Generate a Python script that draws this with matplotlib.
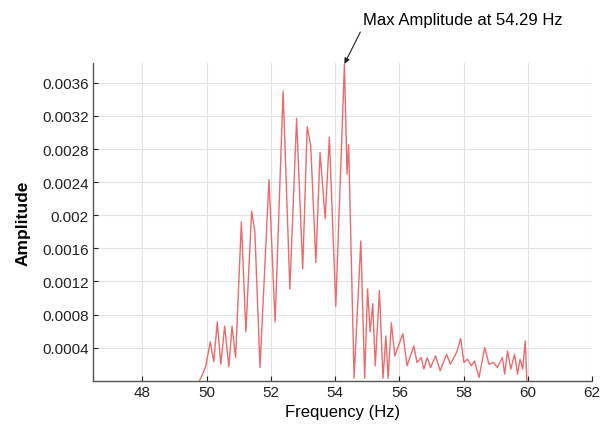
import matplotlib
matplotlib.use("Agg")
import matplotlib.pyplot as plt

plt.rcParams['font.family'] = ['Liberation Sans', 'DejaVu Sans']

# spectrum: frequency (Hz) and amplitude at peaks / troughs
freq = [49.78, 49.97, 50.11, 50.22, 50.33, 50.44, 50.56, 50.69, 50.79, 50.90,
        51.08, 51.22, 51.40, 51.50, 51.66, 51.94, 52.13, 52.38, 52.59, 52.80,
        52.99, 53.13, 53.24, 53.40, 53.53, 53.69, 53.82, 54.02, 54.29, 54.37,
        54.42, 54.59, 54.80, 54.92, 55.01, 55.09, 55.17, 55.25, 55.38, 55.49,
        55.58, 55.65, 55.75, 55.86, 56.11, 56.24, 56.45, 56.55, 56.68, 56.76,
        56.87, 56.97, 57.13, 57.27, 57.47, 57.59, 57.78, 57.91, 58.01, 58.12,
        58.24, 58.34, 58.48, 58.66, 58.79, 58.93, 59.05, 59.21, 59.28, 59.37,
        59.47, 59.59, 59.68, 59.76, 59.84, 59.92, 59.97]
amp = [0.0, 0.00017, 0.00047, 0.00023, 0.00071, 0.00020, 0.00066, 0.00017, 0.00066, 0.00028,
       0.00192, 0.00059, 0.00205, 0.00180, 0.00016, 0.00243, 0.00071, 0.00350, 0.00111, 0.00317,
       0.00135, 0.00307, 0.00284, 0.00143, 0.00276, 0.00196, 0.00294, 0.00090, 0.00383, 0.00250,
       0.00285, 0.00003, 0.00169, 0.00003, 0.00111, 0.00059, 0.00093, 0.00018, 0.00109, 0.00003,
       0.00054, 0.00003, 0.00070, 0.00030, 0.00057, 0.00018, 0.00042, 0.00022, 0.00028, 0.00014,
       0.00028, 0.00016, 0.00030, 0.00012, 0.00032, 0.00020, 0.00034, 0.00051, 0.00022, 0.00026,
       0.00018, 0.00024, 0.00004, 0.00040, 0.00020, 0.00022, 0.00016, 0.00028, 0.00008, 0.00036,
       0.00014, 0.00032, 0.00008, 0.00026, 0.00014, 0.00048, 0.0]

xticks = [48, 50, 52, 54, 56, 58, 60, 62]
yticks = [0.0004, 0.0008, 0.0012, 0.0016, 0.002, 0.0024, 0.0028, 0.0032, 0.0036]
ytick_labels = ['0.0004', '0.0008', '0.0012', '0.0016', '0.002', '0.0024', '0.0028', '0.0032', '0.0036']
peak_f, peak_a = 54.29, 0.00383

fig = plt.figure(figsize=(6, 4.39), dpi=100)
ax = fig.add_axes([0.1545, 0.1305, 0.8322, 0.7237])

ax.plot(freq, amp, color='#ec6b6b', lw=1.0)

ax.set_xlim(46.45, 62)
ax.set_ylim(0, 0.00384)
ax.set_xticks(xticks)
ax.set_xticklabels([str(t) for t in xticks])
ax.set_yticks(yticks)
ax.set_yticklabels(ytick_labels)
ax.tick_params(direction='in', length=3.5, width=0.8, labelsize=11, colors='#222222', pad=3)
ax.grid(True, color='#e2e2e2', lw=0.8)
ax.set_axisbelow(True)

for s in ['top', 'right']:
    ax.spines[s].set_visible(False)
for s in ['left', 'bottom']:
    ax.spines[s].set_color('#555555')
    ax.spines[s].set_linewidth(1.0)

ax.set_xlabel('Frequency (Hz)', fontsize=12, labelpad=4)
ax.set_ylabel('Amplitude', fontsize=12.5, fontweight='bold', labelpad=8)

ax.annotate('Max Amplitude at %.2f Hz' % peak_f, xy=(peak_f, peak_a),
            xytext=(0.605, 0.954), textcoords='figure fraction',
            ha='left', va='center', fontsize=12,
            arrowprops=dict(arrowstyle='-|>', color='#222222', lw=0.8,
                            mutation_scale=8, shrinkA=2, shrinkB=0, relpos=(0, 0)))

fig.savefig('out.png', dpi=100)
